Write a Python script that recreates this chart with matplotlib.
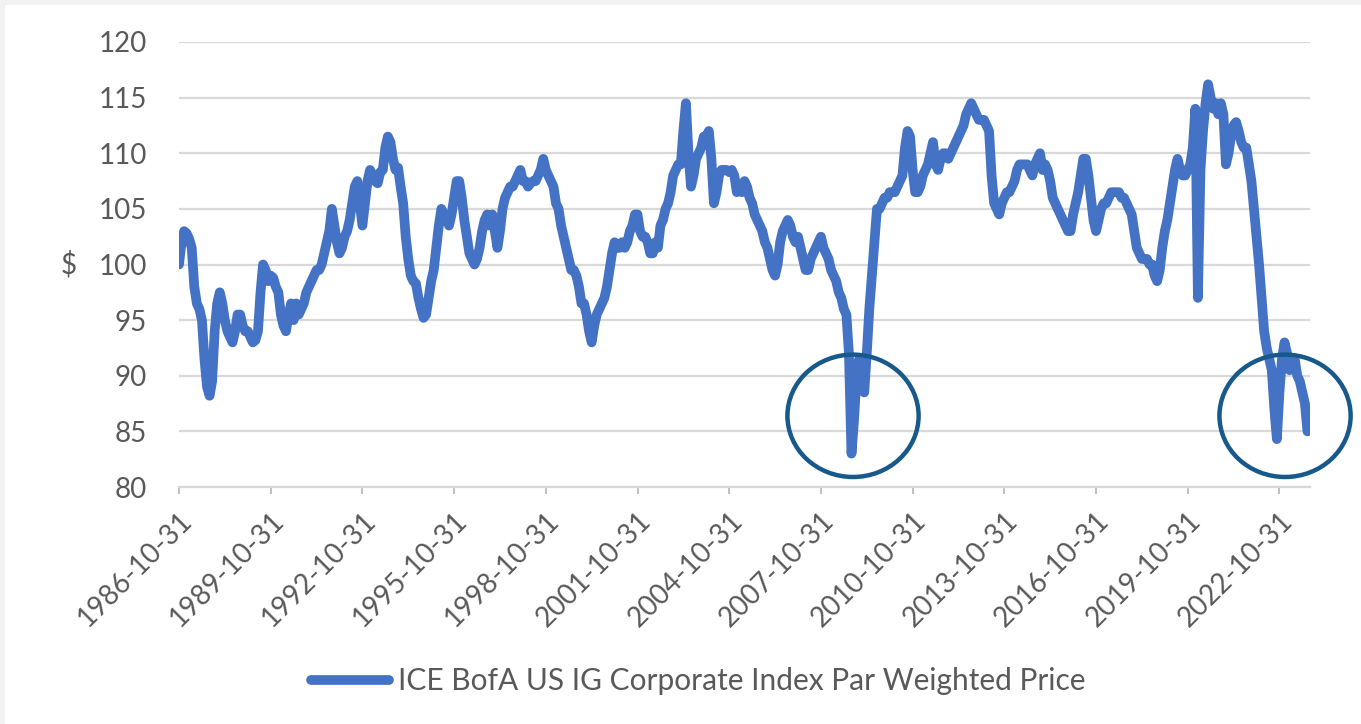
import matplotlib
matplotlib.use("Agg")
import matplotlib.pyplot as plt
from matplotlib.patches import Ellipse, Rectangle

# month-end price, Oct 1986 .. Sep 2023
price_1986 = [100.0, 102.0, 103.0]
price_1987 = [102.8, 102.3, 101.5, 98.0, 96.5, 96.0, 95.0, 91.5, 89.0, 88.2, 89.5, 94.0]
price_1988 = [96.5, 97.5, 96.5, 95.0, 94.0, 93.5, 93.0, 94.0, 95.5, 95.5, 94.5, 94.0]
price_1989 = [94.0, 93.5, 93.0, 93.2, 94.0, 97.5, 100.0, 99.5, 98.5, 99.0, 98.8, 98.0]
price_1990 = [97.5, 95.5, 94.5, 94.0, 95.5, 96.5, 95.0, 96.5, 95.5, 96.0, 96.5, 97.5]
price_1991 = [98.0, 98.5, 99.0, 99.5, 99.5, 100.0, 101.0, 102.0, 103.0, 105.0, 103.5, 102.0]
price_1992 = [101.0, 101.5, 102.5, 103.0, 104.0, 105.5, 107.0, 107.5, 105.5, 103.5, 105.5, 107.5]
price_1993 = [108.5, 108.0, 107.5, 107.3, 108.3, 108.5, 110.5, 111.5, 111.0, 109.5, 108.5, 108.7]
price_1994 = [107.0, 105.5, 102.5, 100.5, 99.0, 98.5, 98.3, 97.0, 96.0, 95.2, 95.5, 97.0]
price_1995 = [98.5, 99.5, 101.5, 103.5, 105.0, 104.5, 104.0, 103.5, 104.5, 106.0, 107.5, 107.5]
price_1996 = [106.0, 104.0, 102.5, 101.0, 100.5, 100.0, 100.5, 101.5, 103.0, 104.0, 104.5, 103.5]
price_1997 = [104.5, 103.0, 101.5, 103.0, 105.0, 106.0, 106.5, 107.0, 107.0, 107.5, 108.0, 108.5]
price_1998 = [107.5, 107.5, 107.0, 107.3, 107.5, 107.5, 108.0, 108.5, 109.5, 108.5, 108.0, 107.5]
price_1999 = [107.0, 105.5, 105.0, 103.5, 102.5, 101.5, 100.5, 99.5, 99.5, 99.0, 98.0, 96.5]
price_2000 = [96.5, 95.5, 94.0, 93.0, 94.5, 95.5, 96.0, 96.5, 97.0, 98.0, 99.5, 101.0]
price_2001 = [102.0, 101.5, 101.5, 102.0, 101.5, 102.0, 103.0, 103.5, 104.5, 104.5, 103.0, 102.5]
price_2002 = [102.5, 102.0, 101.0, 101.0, 102.0, 101.5, 103.5, 104.0, 105.0, 105.5, 106.5, 108.0]
price_2003 = [108.5, 109.0, 109.0, 112.0, 114.5, 110.0, 107.0, 108.0, 109.5, 110.0, 110.5, 111.5]
price_2004 = [111.5, 112.0, 109.5, 105.5, 106.5, 108.0, 108.5, 108.5, 108.5, 108.3, 108.5, 108.0]
price_2005 = [106.5, 107.0, 106.5, 107.5, 107.0, 106.0, 105.5, 104.5, 104.0, 103.5, 103.0, 102.0]
price_2006 = [101.5, 100.5, 99.5, 99.0, 100.0, 102.0, 103.0, 103.5, 104.0, 103.5, 102.5, 102.0]
price_2007 = [102.5, 101.5, 100.5, 99.5, 99.5, 100.5, 101.0, 101.5, 102.0, 102.5, 101.5, 101.0]
price_2008 = [100.5, 99.5, 99.0, 98.5, 97.5, 97.0, 96.0, 95.5, 92.0, 83.0, 86.0, 90.0]
price_2009 = [91.5, 89.0, 88.5, 92.0, 96.0, 99.0, 102.0, 105.0, 105.0, 105.5, 106.0, 106.0]
price_2010 = [106.5, 106.5, 106.5, 107.0, 107.5, 108.0, 110.5, 112.0, 111.5, 108.5, 106.5, 106.5]
price_2011 = [107.0, 108.0, 108.5, 109.0, 110.0, 111.0, 109.0, 108.5, 109.5, 110.0, 110.0, 109.5]
price_2012 = [110.0, 110.5, 111.0, 111.5, 112.0, 112.5, 113.5, 114.0, 114.5, 114.0, 113.5, 113.0]
price_2013 = [113.0, 113.0, 112.5, 112.0, 108.0, 105.5, 105.0, 104.5, 105.5, 106.0, 106.5, 106.5]
price_2014 = [107.0, 107.5, 108.5, 109.0, 109.0, 109.0, 109.0, 108.5, 108.0, 109.0, 109.5, 110.0]
price_2015 = [108.5, 109.0, 108.5, 107.5, 106.0, 105.5, 105.0, 104.5, 104.0, 103.5, 103.0, 103.0]
price_2016 = [104.5, 105.5, 106.5, 108.0, 109.5, 109.5, 108.0, 106.0, 104.0, 103.0, 104.0, 105.0]
price_2017 = [105.5, 105.5, 106.0, 106.5, 106.5, 106.5, 106.5, 106.0, 106.0, 105.5, 105.0, 104.5]
price_2018 = [103.0, 101.5, 101.0, 100.5, 100.5, 100.5, 100.0, 100.0, 99.0, 98.5, 99.5, 101.5]
price_2019 = [103.0, 104.0, 105.5, 107.0, 108.5, 109.5, 108.5, 108.0, 108.0, 108.5, 109.0, 110.5]
price_2020 = [114.0, 97.0, 108.5, 112.0, 114.5, 116.2, 115.0, 114.0, 114.5, 113.5, 114.5, 113.5]
price_2021 = [109.0, 110.0, 111.5, 112.5, 112.8, 112.0, 111.0, 110.5, 110.5, 109.0, 107.5, 105.0]
price_2022 = [102.5, 100.0, 97.0, 94.0, 92.5, 91.5, 90.5, 87.0, 84.3, 88.5, 91.5, 93.0]
price_2023 = [92.0, 90.5, 91.0, 91.5, 90.0, 89.5, 88.5, 87.5, 85.0]

tick_labels = ["1986-10-31", "1989-10-31", "1992-10-31", "1995-10-31", "1998-10-31",
               "2001-10-31", "2004-10-31", "2007-10-31", "2010-10-31", "2013-10-31",
               "2016-10-31", "2019-10-31", "2022-10-31"]
series_name = "ICE BofA US IG Corporate Index Par Weighted Price"

yearly = [price_1986, price_1987, price_1988, price_1989, price_1990, price_1991,
          price_1992, price_1993, price_1994, price_1995, price_1996, price_1997,
          price_1998, price_1999, price_2000, price_2001, price_2002, price_2003,
          price_2004, price_2005, price_2006, price_2007, price_2008, price_2009,
          price_2010, price_2011, price_2012, price_2013, price_2014, price_2015,
          price_2016, price_2017, price_2018, price_2019, price_2020, price_2021,
          price_2022, price_2023]
price = [v for yr in yearly for v in yr]
months = list(range(len(price)))

# highlighted drawdowns (centre month index, centre price)
highlights = [(264.6, 86.4), (434.2, 86.4)]

BLUE = "#4472C4"
RING = "#17598A"
GREY_TXT = "#595959"
GRID = "#D9D9D9"

plt.rcParams["font.family"] = ["Lato", "DejaVu Sans"]

fig = plt.figure(figsize=(13.61, 7.24), dpi=100)
fig.patch.set_facecolor("white")
# thin grey frame on the left / top edge of the screenshot
fig.patches.append(Rectangle((0, 0), 5 / 1361, 1, transform=fig.transFigure,
                             facecolor="#F2F2F2", edgecolor="none", zorder=-10))
fig.patches.append(Rectangle((0, 1 - 5 / 724), 1, 5 / 724, transform=fig.transFigure,
                             facecolor="#F2F2F2", edgecolor="none", zorder=-10))

ax = fig.add_axes([179 / 1361, 1 - 487 / 724, (1310 - 179) / 1361, (487 - 42) / 724])
ax.set_facecolor("none")

ax.plot(months, price, color=BLUE, lw=7.0, solid_joinstyle="round",
        solid_capstyle="round", label=series_name, zorder=3)

ax.set_xlim(0, 444)
ax.set_ylim(80, 120)
ax.set_yticks(range(80, 121, 5))
ax.yaxis.grid(True, color=GRID, lw=1.6)
ax.set_axisbelow(True)

ax.set_xticks([i * 36 for i in range(len(tick_labels))])
ax.set_xticklabels(tick_labels, rotation=45, ha="right", rotation_mode="anchor")

for s in ["left", "right", "top"]:
    ax.spines[s].set_visible(False)
ax.spines["bottom"].set_color(GRID)
ax.spines["bottom"].set_linewidth(1.6)

ax.tick_params(axis="y", length=0, pad=23, labelsize=20, labelcolor=GREY_TXT)
ax.tick_params(axis="x", length=5, width=1.4, color="#BFBFBF", pad=10,
               labelsize=20, labelcolor=GREY_TXT)

fig.text(68.5 / 1361, 1 - 265 / 724, "$", ha="center", va="center",
         fontsize=20, color=GREY_TXT)

for cx, cy in highlights:
    ax.add_patch(Ellipse((cx, cy), 51.5, 11.0, fill=False, edgecolor=RING,
                         lw=3.2, clip_on=False, zorder=4))

leg = ax.legend(loc="center", bbox_to_anchor=(698 / 1361, 43 / 724),
                bbox_transform=fig.transFigure, frameon=False, fontsize=21.5,
                handlelength=2.6, handletextpad=0.3)
for t in leg.get_texts():
    t.set_color(GREY_TXT)

fig.savefig("out.png", dpi=100, facecolor=fig.get_facecolor())
